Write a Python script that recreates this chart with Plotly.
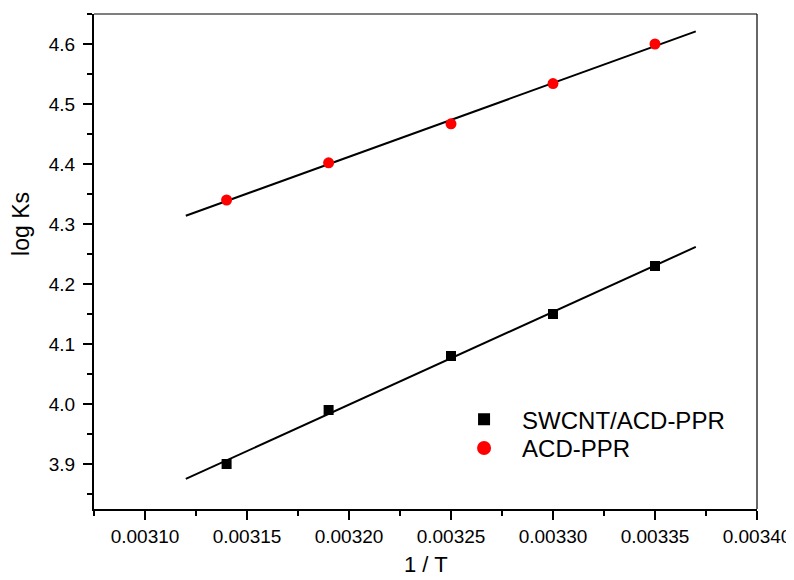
import numpy as np
import plotly.graph_objects as go

inv_T = [0.00314, 0.00319, 0.00325, 0.00330, 0.00335]
logks_swcnt = [3.90, 3.99, 4.08, 4.15, 4.23]
logks_acd = [4.34, 4.402, 4.467, 4.534, 4.60]
fit_range = [0.00312, 0.00337]
series_names = ["SWCNT/ACD-PPR", "ACD-PPR"]
x_ticks = [0.00310, 0.00315, 0.00320, 0.00325, 0.00330, 0.00335, 0.00340]
x_tick_labels = ["0.00310", "0.00315", "0.00320", "0.00325", "0.00330", "0.00335", "0.00340"]
y_ticks = [3.9, 4.0, 4.1, 4.2, 4.3, 4.4, 4.5, 4.6]
y_tick_labels = ["3.9", "4.0", "4.1", "4.2", "4.3", "4.4", "4.5", "4.6"]

FONT = "Liberation Sans, Arial, sans-serif"

fig = go.Figure()
for ys in (logks_swcnt, logks_acd):
    k, b = np.polyfit(inv_T, ys, 1)
    fx = np.array(fit_range)
    fig.add_trace(go.Scatter(x=fx, y=k * fx + b, mode="lines",
                             line=dict(color="black", width=2),
                             showlegend=False, hoverinfo="skip"))

fig.add_trace(go.Scatter(x=inv_T, y=logks_swcnt, mode="markers", showlegend=False,
                         marker=dict(symbol="square", size=10, color="black")))
fig.add_trace(go.Scatter(x=inv_T, y=logks_acd, mode="markers", showlegend=False,
                         marker=dict(symbol="circle", size=11, color="red")))
# legend entries (larger symbols, as in the reference), one legend box per row
fig.add_trace(go.Scatter(x=[None], y=[None], mode="markers", name=series_names[0],
                         legend="legend",
                         marker=dict(symbol="square", size=12, color="black")))
fig.add_trace(go.Scatter(x=[None], y=[None], mode="markers", name=series_names[1],
                         legend="legend2",
                         marker=dict(symbol="circle", size=14, color="red")))

axis_common = dict(
    ticks="outside", ticklen=9, tickwidth=2, tickcolor="black",
    showline=True, linecolor="black", linewidth=2, mirror=False,
    showgrid=False, zeroline=False, tickfont=dict(size=19, family=FONT),
)

legend_common = dict(x=0.531, xanchor="left", yanchor="top",
                     bgcolor="rgba(0,0,0,0)", font=dict(size=24, family=FONT),
                     itemwidth=66, itemsizing="trace")

fig.update_layout(
    width=794, height=580,
    margin=dict(l=86, r=45, t=6, b=79),
    paper_bgcolor="white", plot_bgcolor="white",
    font=dict(family=FONT, color="black", size=19),
    legend=dict(y=0.226, **legend_common),
    legend2=dict(y=0.168, **legend_common),
    xaxis=dict(range=[0.003075, 0.00340], tickvals=x_ticks, ticktext=x_tick_labels,
               minor=dict(ticks="outside", ticklen=5, tickwidth=2, dtick=0.000025,
                          tick0=0.003075, tickcolor="black"),
               **axis_common),
    yaxis=dict(range=[3.825, 4.65], tickvals=y_ticks, ticktext=y_tick_labels,
               ticklabelstandoff=4,
               minor=dict(ticks="outside", ticklen=5, tickwidth=2, dtick=0.05,
                          tick0=3.85, tickcolor="black"),
               **axis_common),
    shapes=[
        dict(type="line", xref="paper", yref="paper", x0=0, x1=1, y0=1, y1=1,
             line=dict(color="black", width=1.2)),
        dict(type="line", xref="paper", yref="paper", x0=1, x1=1, y0=0, y1=1,
             line=dict(color="black", width=1.2)),
    ],
    annotations=[
        dict(text="1 / T", xref="paper", yref="paper", x=0.5, y=-0.113,
             xanchor="center", yanchor="middle", showarrow=False,
             font=dict(size=22, family=FONT)),
        dict(text="log Ks", xref="paper", yref="paper", x=-0.110, y=0.576,
             xanchor="center", yanchor="middle", showarrow=False, textangle=-90,
             font=dict(size=23, family=FONT)),
    ],
)

fig.write_html("out.html")
